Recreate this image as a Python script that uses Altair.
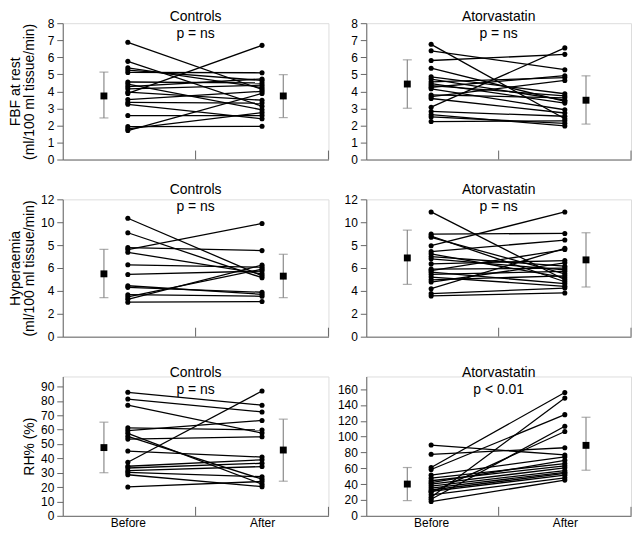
import altair as alt
import pandas as pd

# ---------------- data ----------------
PHASES = ["Before", "After"]

# Row 1: FBF at rest (ml/100 ml tissue/min)
ctrl_fbf_before = [6.88, 3.88, 1.70, 1.80, 1.93, 5.76, 5.38, 5.25, 5.11, 4.55, 4.43, 4.28, 4.15, 3.96, 3.52, 3.35, 3.24, 2.58]
ctrl_fbf_after = [4.11, 6.70, 3.88, 2.75, 1.95, 3.13, 4.22, 4.64, 5.09, 4.49, 2.92, 4.73, 4.36, 3.48, 4.00, 3.31, 2.39, 2.58]
ctrl_fbf_mean = [3.73, 3.73]
ctrl_fbf_lo = [2.44, 2.46]
ctrl_fbf_hi = [5.13, 4.98]

ator_fbf_before = [6.76, 6.38, 5.81, 5.36, 4.85, 4.72, 4.56, 4.45, 4.34, 4.24, 4.15, 3.79, 3.69, 3.58, 3.07, 2.82, 2.63, 2.50, 2.23]
ator_fbf_after = [2.39, 5.27, 6.17, 3.41, 3.86, 3.48, 4.81, 3.31, 3.73, 4.92, 2.92, 3.62, 4.64, 2.73, 6.55, 2.54, 1.97, 2.12, 2.27]
ator_fbf_mean = [4.43, 3.48]
ator_fbf_lo = [3.01, 2.08]
ator_fbf_hi = [5.85, 4.91]

# Row 2: Hyperaemia (ml/100 ml tissue/min)
ctrl_hyp_before = [10.35, 9.08, 7.78, 7.61, 7.37, 6.28, 5.44, 4.45, 4.31, 3.67, 3.47, 3.27, 3.01]
ctrl_hyp_after = [5.32, 5.15, 7.52, 9.89, 5.49, 6.07, 5.73, 3.70, 3.88, 3.53, 5.90, 6.25, 3.07]
ctrl_hyp_mean = [5.49, 5.29]
ctrl_hyp_lo = [3.41, 3.41]
ctrl_hyp_hi = [7.63, 7.20]

ator_hyp_before = [10.90, 8.96, 8.79, 8.68, 7.95, 7.43, 7.23, 7.00, 6.80, 6.36, 5.90, 5.78, 5.64, 5.44, 5.21, 4.97, 4.77, 4.19, 3.76, 3.56]
ator_hyp_after = [4.97, 9.02, 4.80, 5.49, 10.90, 8.44, 5.15, 6.16, 5.84, 6.65, 5.99, 7.61, 4.63, 5.70, 4.40, 5.32, 6.45, 7.72, 4.25, 3.82]
ator_hyp_mean = [6.88, 6.71]
ator_hyp_lo = [4.57, 4.34]
ator_hyp_hi = [9.31, 9.08]

# Row 3: RH% (%)
ctrl_rh_before = [86.0, 81.3, 77.0, 61.2, 59.3, 57.4, 55.3, 53.4, 45.1, 37.3, 34.5, 33.3, 31.4, 30.2, 28.6, 20.1]
ctrl_rh_after = [77.0, 72.3, 57.6, 59.8, 66.4, 22.0, 25.5, 55.0, 40.9, 86.9, 39.0, 36.6, 34.3, 27.2, 20.3, 23.9]
ctrl_rh_mean = [47.5, 45.8]
ctrl_rh_lo = [30.0, 24.1]
ctrl_rh_hi = [65.2, 67.3]

ator_rh_before = [89.4, 77.7, 61.0, 58.5, 23.4, 20.9, 29.7, 51.4, 47.6, 44.3, 42.0, 40.1, 37.6, 35.1, 32.6, 31.0, 26.5, 18.0]
ator_rh_after = [76.9, 86.0, 155.8, 127.8, 148.7, 113.2, 106.5, 74.4, 66.0, 63.1, 70.0, 60.6, 57.2, 55.0, 53.5, 51.4, 48.0, 45.1]
ator_rh_mean = [40.1, 89.0]
ator_rh_lo = [19.2, 57.6]
ator_rh_hi = [61.0, 124.5]

# ---------------- layout / style ----------------
X_BEFORE, X_AFTER = 0.49, 1.5
X_MEAN_BEFORE, X_MEAN_AFTER = 0.31, 1.66
FONT = "Liberation Sans"
AXIS = "#666666"
ERR = "#8a8a8a"
W1, W2 = 267, 266
H1, H2, H3 = 137, 138, 140


def panel(before, after, mean, lo, hi, ydom, yvals, head, sub, W, H,
          ytitle=None, xlabels=False, label_expr=None, toff=-21):
    n = len(before)
    pts = pd.DataFrame({
        "subject": list(range(n)) * 2,
        "phase": ["Before"] * n + ["After"] * n,
        "value": list(before) + list(after),
    })
    pts["pos"] = pts["phase"].map({"Before": X_BEFORE, "After": X_AFTER})
    stats = pd.DataFrame({"phase": PHASES, "mean": mean, "lo": lo, "hi": hi})
    stats["pos"] = stats["phase"].map({"Before": X_MEAN_BEFORE, "After": X_MEAN_AFTER})

    xscale = alt.Scale(domain=[0, 2], nice=False, zero=False)
    yscale = alt.Scale(domain=ydom, nice=False)
    xaxis = alt.Axis(values=[X_BEFORE, X_AFTER], ticks=False, grid=False, title=None,
                     labels=xlabels, labelExpr="datum.value < 1 ? 'Before' : 'After'",
                     labelFontSize=12, labelPadding=2, labelColor="black",
                     domainColor=AXIS, labelFont=FONT)
    yargs = dict(values=yvals, grid=False, tickSize=6, labelPadding=3, labelFontSize=12,
                 labelColor="black", domainColor=AXIS, tickColor=AXIS, labelFont=FONT,
                 minExtent=22, maxExtent=22, titlePadding=4, titleFontSize=14,
                 titleFontWeight="normal", titleFont=FONT, titleColor="black",
                 titleLineHeight=14)
    if label_expr:
        yargs["labelExpr"] = label_expr
    yargs["title"] = ytitle if ytitle else None
    yaxis = alt.Axis(**yargs)

    base = alt.Chart(pts)
    x = alt.X("pos:Q", scale=xscale, axis=xaxis)
    lines = base.mark_line(color="black", strokeWidth=1.3).encode(
        x=x, y=alt.Y("value:Q", scale=yscale, axis=yaxis), detail="subject:N")
    dots = base.mark_circle(color="black", size=26, opacity=1).encode(
        x=x, y=alt.Y("value:Q", scale=yscale, axis=yaxis))

    sb = alt.Chart(stats)
    err = sb.mark_rule(color=ERR, strokeWidth=1.2).encode(
        x=x, y=alt.Y("lo:Q", scale=yscale, axis=yaxis), y2="hi:Q")
    cap_lo = sb.mark_tick(orient="horizontal", size=9, thickness=1.2, color=ERR).encode(
        x=x, y=alt.Y("lo:Q", scale=yscale, axis=yaxis))
    cap_hi = sb.mark_tick(orient="horizontal", size=9, thickness=1.2, color=ERR).encode(
        x=x, y=alt.Y("hi:Q", scale=yscale, axis=yaxis))
    sq = sb.mark_square(color="black", size=48, opacity=1).encode(
        x=x, y=alt.Y("mean:Q", scale=yscale, axis=yaxis))

    ticks = alt.Chart(pd.DataFrame({"t": [1.0, 2.0]})).mark_rule(
        color=AXIS, strokeWidth=1).encode(
        x=alt.X("t:Q", scale=xscale, axis=xaxis), y=alt.value(H), y2=alt.value(H - 9))

    return alt.layer(lines, dots, err, cap_lo, cap_hi, sq, ticks).properties(
        width=W, height=H,
        title=alt.TitleParams(text=head, subtitle=sub, anchor="middle", frame="group",
                              fontSize=14, subtitleFontSize=14, fontWeight="normal",
                              font=FONT, subtitleFont=FONT, color="black",
                              subtitleColor="black", offset=toff, subtitlePadding=3))


p1 = panel(ctrl_fbf_before, ctrl_fbf_after, ctrl_fbf_mean, ctrl_fbf_lo, ctrl_fbf_hi,
           [0, 8], list(range(0, 9)), "Controls", "p = ns", W1, H1,
           ytitle=["FBF at rest", "(ml/100 ml tissue/min)"], toff=-24)
p2 = panel(ator_fbf_before, ator_fbf_after, ator_fbf_mean, ator_fbf_lo, ator_fbf_hi,
           [0, 8], list(range(0, 9)), "Atorvastatin", "p = ns", W2, H1, toff=-24)
p3 = panel(ctrl_hyp_before, ctrl_hyp_after, ctrl_hyp_mean, ctrl_hyp_lo, ctrl_hyp_hi,
           [0, 12], list(range(0, 13, 2)), "Controls", "p = ns", W1, H2,
           ytitle=["Hyperaemia", "(ml/100 ml tissue/min)"],
           label_expr="datum.value == 8 ? '5' : datum.label")
p4 = panel(ator_hyp_before, ator_hyp_after, ator_hyp_mean, ator_hyp_lo, ator_hyp_hi,
           [0, 12], list(range(0, 13, 2)), "Atorvastatin", "p = ns", W2, H2,
           label_expr="datum.value == 8 ? '5' : datum.label")
p5 = panel(ctrl_rh_before, ctrl_rh_after, ctrl_rh_mean, ctrl_rh_lo, ctrl_rh_hi,
           [0, 97], list(range(0, 91, 10)), "Controls", "p = ns", W1, H3,
           ytitle="RH% (%)", xlabels=True)
p6 = panel(ator_rh_before, ator_rh_after, ator_rh_mean, ator_rh_lo, ator_rh_hi,
           [0, 176], list(range(0, 161, 20)), "Atorvastatin", "p < 0.01", W2, H3,
           xlabels=True)

chart = alt.concat(p1, p2, p3, p4, p5, p6, columns=2, align="each", bounds="flush",
                   spacing={"row": 40, "column": 38}, padding=0
                   ).configure_view(stroke=None).configure(font=FONT)

chart.save("out.html", embed_options={"renderer": "svg", "actions": False})
